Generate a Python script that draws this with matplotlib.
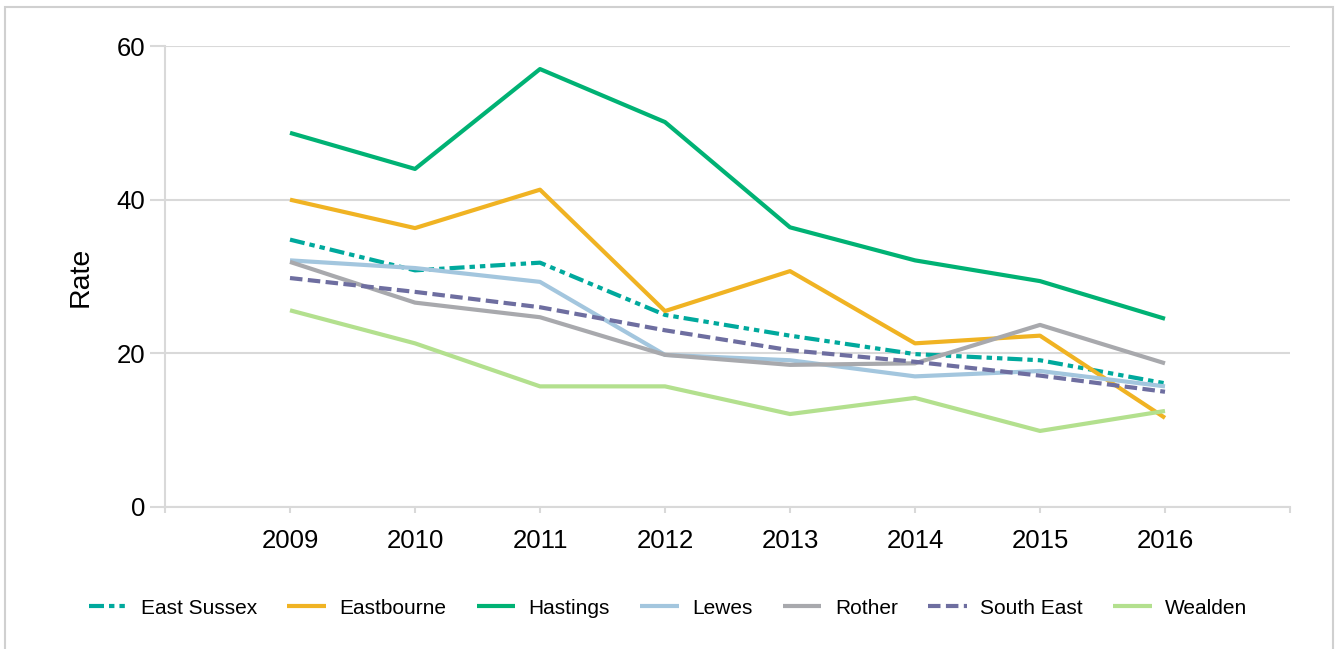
import matplotlib
matplotlib.use("Agg")
import matplotlib.pyplot as plt
from matplotlib.patches import Rectangle

plt.rcParams['font.family'] = ['Liberation Sans', 'DejaVu Sans']

# Data
years = ['2009', '2010', '2011', '2012', '2013', '2014', '2015', '2016']
east_sussex = [34.8, 30.8, 31.8, 25.0, 22.3, 19.9, 19.1, 16.1]
eastbourne = [40.0, 36.3, 41.3, 25.5, 30.7, 21.3, 22.3, 11.6]
hastings = [48.7, 44.0, 57.0, 50.1, 36.4, 32.1, 29.4, 24.5]
lewes = [32.1, 31.1, 29.3, 19.8, 19.1, 17.0, 17.7, 15.7]
rother = [31.9, 26.6, 24.7, 19.8, 18.5, 18.7, 23.7, 18.7]
south_east = [29.8, 28.0, 26.0, 23.0, 20.4, 18.9, 17.1, 15.0]
wealden = [25.6, 21.3, 15.7, 15.7, 12.1, 14.2, 9.9, 12.5]

series = [
    ('East Sussex', east_sussex, '#00A99D', (0, (3.6, 1.2, 1.3, 1.2, 1.3, 1.2))),
    ('Eastbourne', eastbourne, '#F0B323', '-'),
    ('Hastings', hastings, '#00B274', '-'),
    ('Lewes', lewes, '#A3C6DE', '-'),
    ('Rother', rother, '#A8A9AD', '-'),
    ('South East', south_east, '#6E6EA0', (0, (3, 1.3))),
    ('Wealden', wealden, '#B3E08E', '-'),
]

fig = plt.figure(figsize=(13.36, 6.49), dpi=100)
ax = fig.add_axes([165 / 1336, 1 - 507 / 649, 1125 / 1336, 461 / 649])

x = list(range(len(years)))
for name, vals, color, style in series:
    ax.plot(x, vals, color=color, linestyle=style, linewidth=3, label=name,
            solid_capstyle='butt', dash_capstyle='butt')

grid_color = '#D9D9D9'
ax.set_xlim(-1, 8)
ax.set_ylim(0, 60)
ax.set_yticks([0, 20, 40, 60])
ax.set_xticks(range(-1, 9))
ax.set_xticklabels([''] + years + [''])
ax.yaxis.grid(True, color=grid_color, linewidth=1.5)
ax.set_axisbelow(True)
for side in ['top', 'right']:
    ax.spines[side].set_visible(False)
for side in ['left', 'bottom']:
    ax.spines[side].set_color(grid_color)
    ax.spines[side].set_linewidth(1.5)
ax.tick_params(axis='y', length=11, width=1.5, color=grid_color, labelsize=18.5, pad=3)
ax.tick_params(axis='x', length=4.5, width=1.5, color=grid_color, labelsize=18.5, pad=11)
ax.set_ylabel('Rate', fontsize=20.5)
ax.yaxis.set_label_coords(-0.063, 0.5)

ax.legend(loc='center', bbox_to_anchor=(0.5, (649 - 608) / 649), bbox_transform=fig.transFigure,
          ncol=7, frameon=False, fontsize=15, handlelength=1.85, handletextpad=0.65,
          columnspacing=1.45)

# light border around the chart area
fig.patches.append(Rectangle((5 / 1336, -0.05), 1328 / 1336, 1.05 - 7 / 649,
                             transform=fig.transFigure, fill=False,
                             edgecolor='#D0D0D0', linewidth=1.5))

fig.savefig('out.png', dpi=100)
